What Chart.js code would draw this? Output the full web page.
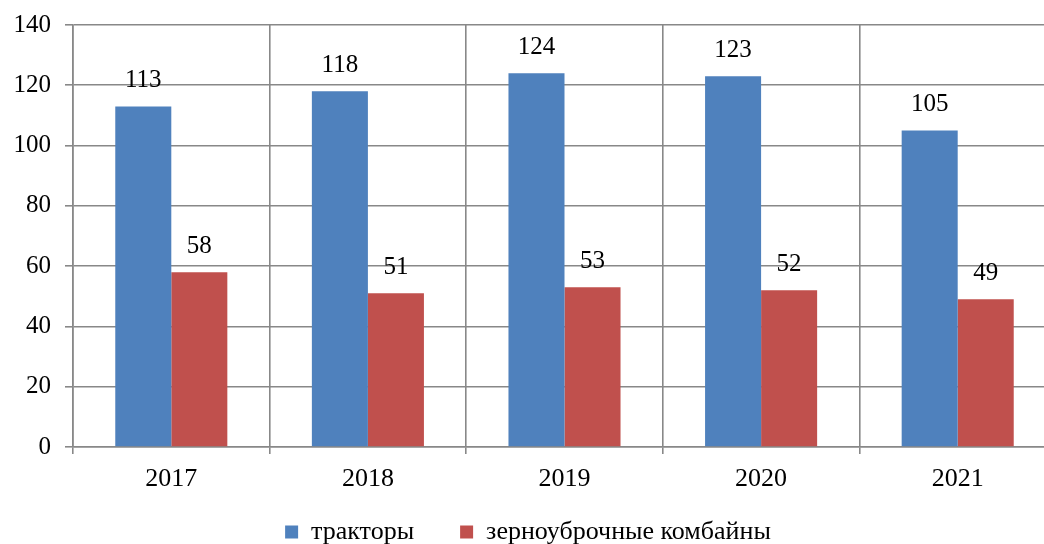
<!DOCTYPE html>
<html>
<head>
<meta charset="utf-8">
<script src="https://cdn.jsdelivr.net/npm/chart.js@4/dist/chart.umd.min.js"></script>
<style>
    html, body { margin: 0; padding: 0; background: #fff; overflow: hidden; }
    #wrap { width: 1056px; height: 544px; }
</style>
</head>
<body>
<div id="wrap"><canvas id="machines-chart" width="1056" height="544"></canvas></div>
<script>
const years = ['2017', '2018', '2019', '2020', '2021'];
const tractors = [113, 118, 124, 123, 105];
const combines = [58, 51, 53, 52, 49];
const series_names = ['тракторы', 'зерноуброчные комбайны'];

const font_serif = "'Liberation Serif', 'Times New Roman', serif";
const grid_color = '#888888';

// подписи значений над столбиками
const valueLabels = {
    id: 'value-labels',
    afterDatasetsDraw: (chart) => {
        const ctx = chart.ctx;
        ctx.save();
        ctx.font = "25px " + font_serif;
        ctx.fillStyle = '#000';
        ctx.textAlign = 'center';
        ctx.textBaseline = 'middle';
        chart.data.datasets.forEach((ds, i) => {
            chart.getDatasetMeta(i).data.forEach((bar, k) => {
                ctx.fillText(ds.data[k], bar.x, bar.y - 26);
            });
        });
        ctx.restore();
    }
};

const ctx = document.getElementById('machines-chart');
new Chart(ctx, {
    type: 'bar',
    data: {
        labels: years,
        datasets: [{
            label: series_names[0],
            data: tractors,
            backgroundColor: '#4f81bd',
            borderWidth: 0,
        }, {
            label: series_names[1],
            data: combines,
            backgroundColor: '#c0504d',
            borderWidth: 0,
        }]
    },
    options: {
        responsive: false,
        animation: false,
        layout: { padding: { top: 25, left: 0, right: 0, bottom: -11 } },
        datasets: {
            bar: { barPercentage: 1, categoryPercentage: 0.57 }
        },
        scales: {
            x: {
                offset: true,
                grid: {
                    offset: true,
                    color: grid_color,
                    lineWidth: 1.6,
                    tickLength: 7,
                },
                border: { color: grid_color, width: 1.6 },
                ticks: {
                    color: '#000',
                    font: { family: font_serif, size: 26 },
                    padding: 10,
                },
                afterFit: (scale) => { scale.height = 52; }
            },
            y: {
                min: 0,
                max: 140,
                ticks: {
                    stepSize: 20,
                    color: '#000',
                    font: { family: font_serif, size: 25 },
                    padding: 14,
                },
                grid: {
                    color: grid_color,
                    lineWidth: 1.6,
                    tickLength: 8,
                },
                border: { color: grid_color, width: 1.6 },
                afterFit: (scale) => {
                    scale.width = 73;
                    scale.paddingTop = 0;
                }
            }
        },
        plugins: {
            legend: {
                display: true,
                position: 'bottom',
                labels: {
                    color: '#000',
                    font: { family: font_serif, size: 26 },
                    boxWidth: 13,
                    boxHeight: 13,
                    padding: 20,
                    // пошире промежуток между элементами легенды
                    generateLabels: (chart) => {
                        const items = Chart.defaults.plugins.legend.labels.generateLabels(chart);
                        items[0].text += '\u2002\u2002';
                        return items;
                    }
                }
            },
            tooltip: { enabled: false }
        }
    },
    plugins: [valueLabels]
});
</script>
</body>
</html>
